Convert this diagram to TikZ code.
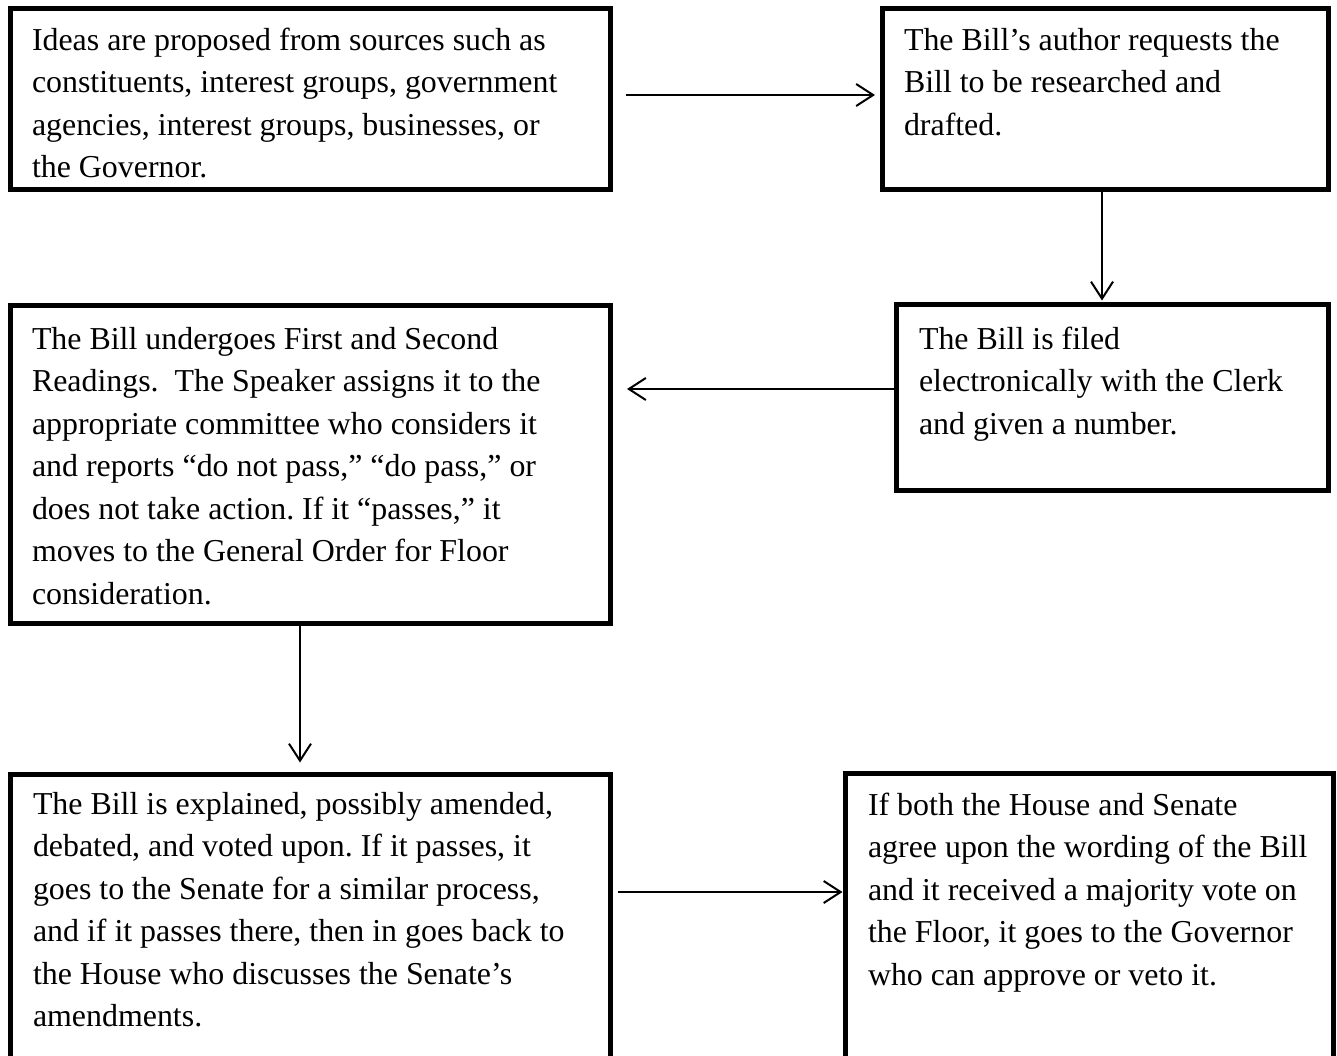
\documentclass[tikz,border=0pt]{standalone}
\usepackage{fontspec}
\setmainfont{Liberation Serif}
\usetikzlibrary{arrows.meta}
\frenchspacing

\begin{document}
\begin{tikzpicture}[x=1pt,y=-1pt,
  stepbox/.style={draw=black, line width=5pt, outer sep=0pt, inner sep=0pt, fill=white},
  steptext/.style={anchor=north west, inner sep=0pt, outer sep=0pt, align=left,
    font=\fontsize{31.9}{42.5}\selectfont},
  arr/.style={line width=2pt, -{Straight Barb[length=17pt,width=22pt,line width=2pt]}}]
\newcommand\firstline{\rule{0pt}{27pt}}
\useasboundingbox (0,0) rectangle (1337,1055);
\clip (0,0) rectangle (1337,1055);
\fill[white] (0,0) rectangle (1337,1055);

% boxes (border centre lines)
\node[stepbox, minimum width=600pt, minimum height=181pt] (b1) at (310,99) {};
\node[stepbox, minimum width=446pt, minimum height=181pt] (b2) at (1105,98.5) {};
\node[stepbox, minimum width=600pt, minimum height=318pt] (b3) at (310,464) {};
\node[stepbox, minimum width=432pt, minimum height=185.5pt] (b4) at (1112,397.25) {};
\node[stepbox, minimum width=600pt, minimum height=325.5pt] (b5) at (310,937.25) {};
\node[stepbox, minimum width=488pt, minimum height=327pt] (b6) at (1089,936.5) {};

% texts
\node[steptext] (t1) at (32,23) {\firstline Ideas are proposed from sources such as\\
constituents, interest groups, government\\
agencies, interest groups, businesses, or\\
the Governor.};
\node[steptext] (t2) at (904,23) {\firstline The Bill’s author requests the\\
Bill to be researched and\\
drafted.};
\node[steptext] (t3) at (32,322) {\firstline The Bill undergoes First and Second\\
Readings.~~The Speaker assigns it to the\\
appropriate committee who considers it\\
and reports “do not pass,” “do pass,” or\\
does not take action. If it “passes,” it\\
moves to the General Order for Floor\\
consideration.};
\node[steptext] (t4) at (919,322) {\firstline The Bill is filed\\
electronically with the Clerk\\
and given a number.};
\node[steptext] (t5) at (33,787) {\firstline The Bill is explained, possibly amended,\\
debated, and voted upon. If it passes, it\\
goes to the Senate for a similar process,\\
and if it passes there, then in goes back to\\
the House who discusses the Senate’s\\
amendments.};
\node[steptext] (t6) at (868,788) {\firstline If both the House and Senate\\
agree upon the wording of the Bill\\
and it received a majority vote on\\
the Floor, it goes to the Governor\\
who can approve or veto it.};

% connectors
\coordinate (a1s) at (626,95);
\coordinate (a2x) at (1102,0);
\coordinate (a3e) at (627,389);
\coordinate (a4x) at (300,0);
\coordinate (a5s) at (618,892);
\draw[arr, shorten >=7pt] (a1s) -- (b2.west |- a1s);
\draw[arr, shorten >=4pt] (b2.south -| a2x) -- (b4.north -| a2x);
\draw[arr] (b4.west |- a3e) -- (a3e);
\draw[arr, shorten >=12pt] (b3.south -| a4x) -- (b5.north -| a4x);
\draw[arr, shorten >=2.5pt] (a5s) -- (b6.west |- a5s);
\end{tikzpicture}
\end{document}
